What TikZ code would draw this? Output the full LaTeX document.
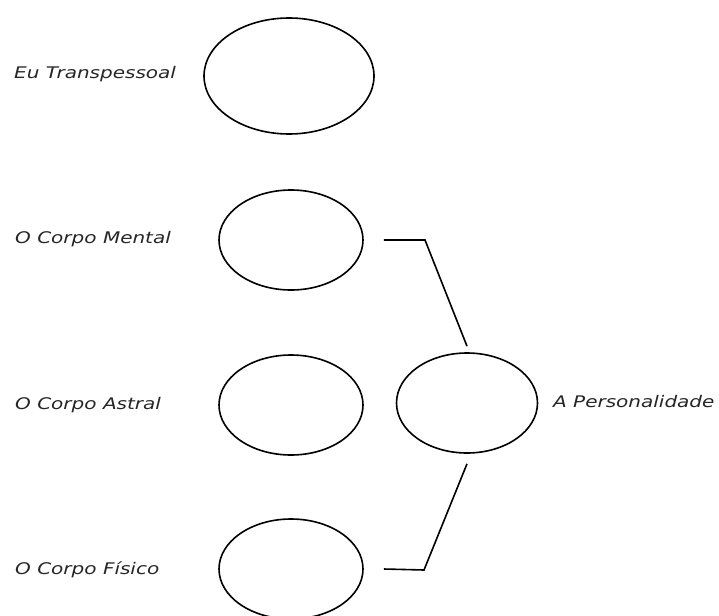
\documentclass[tikz,border=0pt]{standalone}
\usepackage{fontspec}
\newfontfamily\lblfont{DejaVu Sans}[FakeStretch=1.25]
\usetikzlibrary{shapes.geometric}
\tikzset{
  orb/.style={draw=black, ellipse, line width=1.6pt, inner sep=0pt, minimum width=144pt, minimum height=100pt},
  lbl/.style={anchor=west, inner sep=0pt, text=black!85, font=\lblfont\itshape\fontsize{16}{19}\selectfont},
  link/.style={draw=black, line width=1.6pt}
}
\begin{document}
\begin{tikzpicture}[x=1pt,y=-1pt]
\fill[white] (0,0) rectangle (719,615);
\useasboundingbox (0,0) rectangle (719,615);
\node[orb, minimum width=170pt, minimum height=116pt] (eu) at (289,76) {};
\node[orb] (ment) at (291,240) {};
\node[orb] (astr) at (291,405) {};
\node[orb] (fis) at (291,569) {};
\node[orb, minimum width=141pt] (pers) at (467,403) {};
\node[lbl] (leu) at (14,74) {Eu Transpessoal};
\node[lbl] (lment) at (15,239) {O Corpo Mental};
\node[lbl] (lastr) at (15,405) {O Corpo Astral};
\node[lbl] (lfis) at (15,570) {O Corpo Físico};
\node[lbl] (lpers) at (553,402) {A Personalidade};
\coordinate (c1) at (425,240);
\coordinate (c2) at (424,570);
\draw[link] ([xshift=20pt]ment.east) -- (c1) -- ([yshift=6pt]pers.north);
\draw[link] ([yshift=-10pt]pers.south) -- (c2) -- ([xshift=20pt]fis.east);
\end{tikzpicture}
\end{document}
